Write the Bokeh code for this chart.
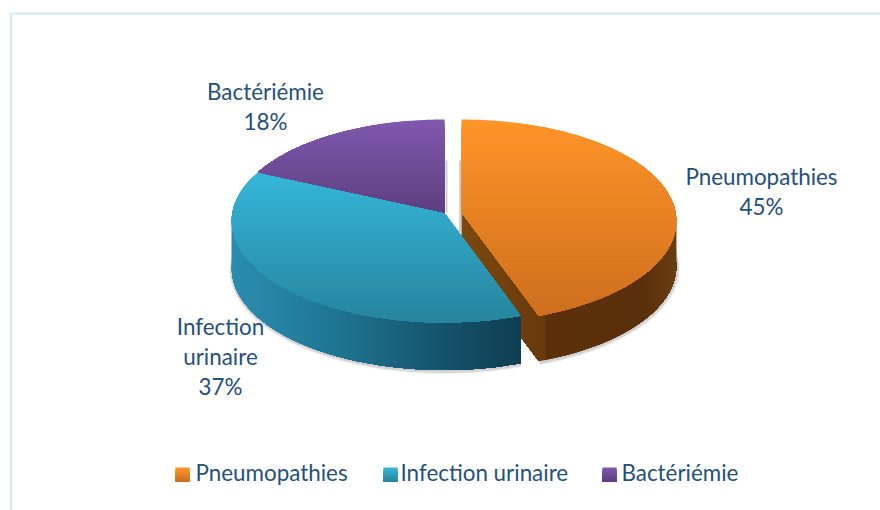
import math
from bokeh.plotting import figure
from bokeh.models import Range1d
from bokeh.core.properties import value
from bokeh.embed import file_html
from bokeh.resources import INLINE

categories = ["Pneumopathies", "Infection urinaire", "Bactériémie"]
shares = [44.6, 37.2, 18.2]
pct_labels = ["45%", "37%", "18%"]
label_lines = [["Pneumopathies"], ["Infection", "urinaire"], ["Bactériémie"]]

# layout (page pixels, the figure's ranges are set to page pixels)
CX = [461, 443.5, 444]
CY = 212
RX = [214, 211.5, 212]
TOP, BOTTOM = 93, 110
DEPTHS = [45.5, 47.5, 47]
K = (BOTTOM - TOP) / (BOTTOM + TOP)
S = TOP * (1 + K)
TEXT = "#24507F"
FONT = value("Lato")

top_grad = [("#FF9428", "#CE6F1E"), ("#35B6D8", "#27859F"), ("#8058AE", "#5E3F80")]
wall_stops = [
    [(461, "#7C4810"), (540, "#6A3A0C"), (541, "#5C300A"), (640, "#5A300C"), (675, "#6A3D12")],
    [(232, "#2C8CAE"), (330, "#1F7694"), (430, "#16566E"), (520, "#0F3D50")],
    [],
]


def rgb(h):
    return tuple(int(h[i:i + 2], 16) for i in (1, 3, 5))


def mix(a, b, f):
    ca, cb = rgb(a), rgb(b)
    return "#%02x%02x%02x" % tuple(round(ca[i] + (cb[i] - ca[i]) * f) for i in range(3))


def project(i, theta):
    X, Y = math.sin(theta), -math.cos(theta)
    d = 1 - K * Y
    return CX[i] + RX[i] * X / d, CY + S * Y / d


def clip_below(poly, y0):
    out = []
    for j, (x, y) in enumerate(poly):
        x2, y2 = poly[(j + 1) % len(poly)]
        if y >= y0:
            out.append((x, y))
        if (y >= y0) != (y2 >= y0):
            f = (y0 - y) / (y2 - y)
            out.append((x + (x2 - x) * f, y0))
    return out


def stop_color(stops, x):
    if x <= stops[0][0]:
        return stops[0][1]
    for (x1, c1), (x2, c2) in zip(stops, stops[1:]):
        if x <= x2:
            return mix(c1, c2, (x - x1) / max(x2 - x1, 1e-6))
    return stops[-1][1]


p = figure(width=880, height=510, x_range=Range1d(0, 880), y_range=Range1d(510, 0),
           x_axis_type=None, y_axis_type=None, toolbar_location=None, output_backend="svg",
           min_border=0, outline_line_color=None, background_fill_color="#FFFFFF")
p.grid.visible = False

# frame
p.line([10.5, 10.5, 880], [510, 13, 13], line_color="#D6E6F6", line_width=2)

total = sum(shares)
spans = []
acc = 0.0
for v in shares:
    spans.append((acc / total * 2 * math.pi, (acc + v) / total * 2 * math.pi))
    acc += v

# soft shadow below the walls
for i, (lo, hi) in enumerate(spans[:2]):
    a = max(lo, math.radians(85))
    b = min(hi, math.radians(272))
    ts = [a + (b - a) * n / 80 for n in range(81)]
    pts = [project(i, t) for t in ts]
    for w, al in ((6, 0.10), (3.5, 0.18)):
        p.line([x + 0.5 for x, _ in pts], [y + DEPTHS[i] + 1 for _, y in pts],
               line_color="#555555", line_width=w, line_alpha=al)

p.segment([446, 459.5], [160, 160], [446, 459.5], [212, 232], line_color="#777777", line_width=2, line_alpha=0.35)


def sweep(top_pts, color_of, depth):
    """Paint a wall as overlapping polygons so that no seams show."""
    xs, ys, cs = [], [], []
    for j in range(len(top_pts) - 1):
        rest = top_pts[j:]
        xs.append([q[0] for q in rest] + [q[0] for q in reversed(rest)])
        ys.append([q[1] for q in rest] + [q[1] + depth for q in reversed(rest)])
        cs.append(color_of(top_pts[j][0]))
    p.patches(xs, ys, fill_color=cs, line_color=None)


def draw_slice(i):
    lo, hi = spans[i]
    n = 90
    arc = [project(i, lo + (hi - lo) * j / n) for j in range(n + 1)]
    apex = (CX[i], CY)
    poly = [apex] + arc
    # walls
    if wall_stops[i]:
        col = lambda x: stop_color(wall_stops[i], x)
        if i == 0:
            c = arc[-1]
            sweep([(apex[0] + (c[0] - apex[0]) * j / 30, apex[1] + (c[1] - apex[1]) * j / 30) for j in range(31)], col, DEPTHS[i])
        sweep(list(reversed([q for q in arc if q[1] >= CY - 10])), col, DEPTHS[i])
    # top face: vertical gradient, painted downwards
    ymin = min(y for _, y in poly)
    ymax = max(y for _, y in poly)
    xs, ys, cs = [], [], []
    steps = 50
    for j in range(steps):
        y0 = ymin + (ymax - ymin) * j / steps
        c = clip_below(poly, y0) if j else poly
        xs.append([q[0] for q in c])
        ys.append([q[1] for q in c])
        cs.append(mix(top_grad[i][0], top_grad[i][1], j / (steps - 1)))
    p.patches(xs, ys, fill_color=cs, line_color=None)


for i in (0, 1, 2):
    draw_slice(i)

# data labels
lab_x = [761, 220, 265]
lab_y = [176, 326, 91]
tx, ty, tt = [], [], []
for i in range(3):
    lines = label_lines[i] + [pct_labels[i]]
    for j, s in enumerate(lines):
        tx.append(lab_x[i])
        ty.append(lab_y[i] + j * 30)
        tt.append(s)
FS = "22.4px"
p.text(tx, ty, text=tt, text_font=FONT, text_font_size=FS, text_color=TEXT,
       text_align="center", text_baseline="middle")

# legend
leg_sq = [175, 383, 602]
leg_tx = [195, 400, 621]
for i in range(3):
    xs, ys, cs = [], [], []
    for j in range(14):
        xs.append([leg_sq[i], leg_sq[i] + 14, leg_sq[i] + 14, leg_sq[i]])
        ys.append([467 + j, 467 + j, 481, 481])
        cs.append(mix(top_grad[i][0], top_grad[i][1], j / 13))
    p.patches(xs, ys, fill_color=cs, line_color=None)
p.text(leg_tx, [472] * 3, text=categories, text_font=FONT, text_font_size=FS, text_color=TEXT,
       text_align="left", text_baseline="middle")

open("out.html", "w").write(file_html(p, INLINE))
